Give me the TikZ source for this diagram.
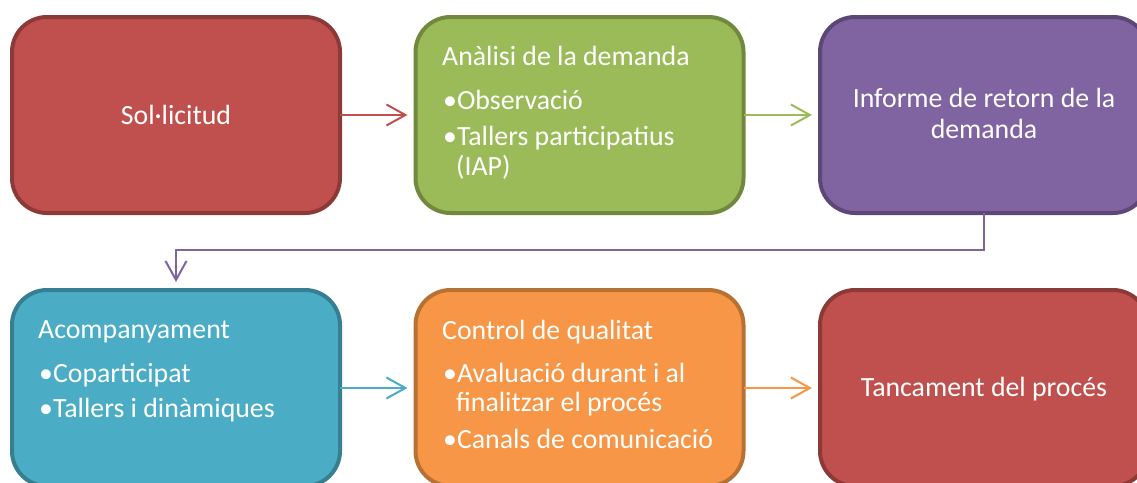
\documentclass[tikz,border=0pt]{standalone}
\usepackage{fontspec}
\setmainfont{Carlito}
\usetikzlibrary{arrows.meta}
\definecolor{rfill}{HTML}{C0504D}\definecolor{rline}{HTML}{8C3A38}
\definecolor{gfill}{HTML}{9BBB59}\definecolor{gline}{HTML}{71893F}
\definecolor{pfill}{HTML}{8064A2}\definecolor{pline}{HTML}{5C4776}
\definecolor{cfill}{HTML}{4BACC6}\definecolor{cline}{HTML}{367F92}
\definecolor{ofill}{HTML}{F79646}\definecolor{oline}{HTML}{B77233}
\tikzset{
  box/.style={draw, line width=4pt, rounded corners=35pt, minimum width=328pt, minimum height=196pt, inner sep=0pt, outer sep=0pt},
  txt/.style={text=white, font=\fontsize{27.8}{32}\selectfont, inner sep=0pt},
  conn/.style={line width=2pt, -{Straight Barb[length=19pt,width=21pt,line width=2pt]}, shorten >=8pt},
}
\begin{document}
\begin{tikzpicture}[x=1pt,y=-1pt]
\useasboundingbox (0,0) rectangle (1137,482);
\clip (0,0) rectangle (1137,482);
% boxes
\node[box, draw=rline, fill=rfill] (b1) at (176,115) {};
\node[box, draw=gline, fill=gfill] (b2) at (579.5,115) {};
\node[box, draw=pline, fill=pfill] (b3) at (984,115) {};
\node[box, draw=cline, fill=cfill] (b4) at (176,388) {};
\node[box, draw=oline, fill=ofill] (b5) at (579.5,388) {};
\node[box, draw=rline, fill=rfill] (b6) at (984,388) {};
% box 1
\node[txt, anchor=base] (t1) at (176,124) {Sol·licitud};
% box 2
\node[txt, anchor=base west] (t2a) at (442,65) {Anàlisi de la demanda};
\node[txt, anchor=base west] (t2b) at (443,109) {•Observació};
\node[txt, anchor=base west] (t2c) at (443,145) {•Tallers participatius};
\node[txt, anchor=base west] (t2d) at (456,175) {(IAP)};
% box 3
\node[txt, anchor=base] (t3a) at (984,107) {Informe de retorn de la};
\node[txt, anchor=base] (t3b) at (984,138) {demanda};
% box 4
\node[txt, anchor=base west] (t4a) at (38,338) {Acompanyament};
\node[txt, anchor=base west] (t4b) at (39,382) {•Coparticipat};
\node[txt, anchor=base west] (t4c) at (39,417) {•Tallers i dinàmiques};
% box 5
\node[txt, anchor=base west] (t5a) at (442,339) {Control de qualitat};
\node[txt, anchor=base west] (t5b) at (443,382) {•Avaluació durant i al};
\node[txt, anchor=base west] (t5c) at (456,411) {finalitzar el procés};
\node[txt, anchor=base west] (t5d) at (443,448) {•Canals de comunicació};
% box 6
\node[txt, anchor=base] (t6) at (984,396) {Tancament del procés};
% connectors
\draw[conn, draw=rfill] (b1.east) -- (b2.west);
\draw[conn, draw=gfill] (b2.east) -- (b3.west);
\draw[conn, draw=pfill] (b3.south) -- ++(0,37) -| (b4.north);
\draw[conn, draw=cfill] (b4.east) -- (b5.west);
\draw[conn, draw=ofill] (b5.east) -- (b6.west);
\end{tikzpicture}
\end{document}
